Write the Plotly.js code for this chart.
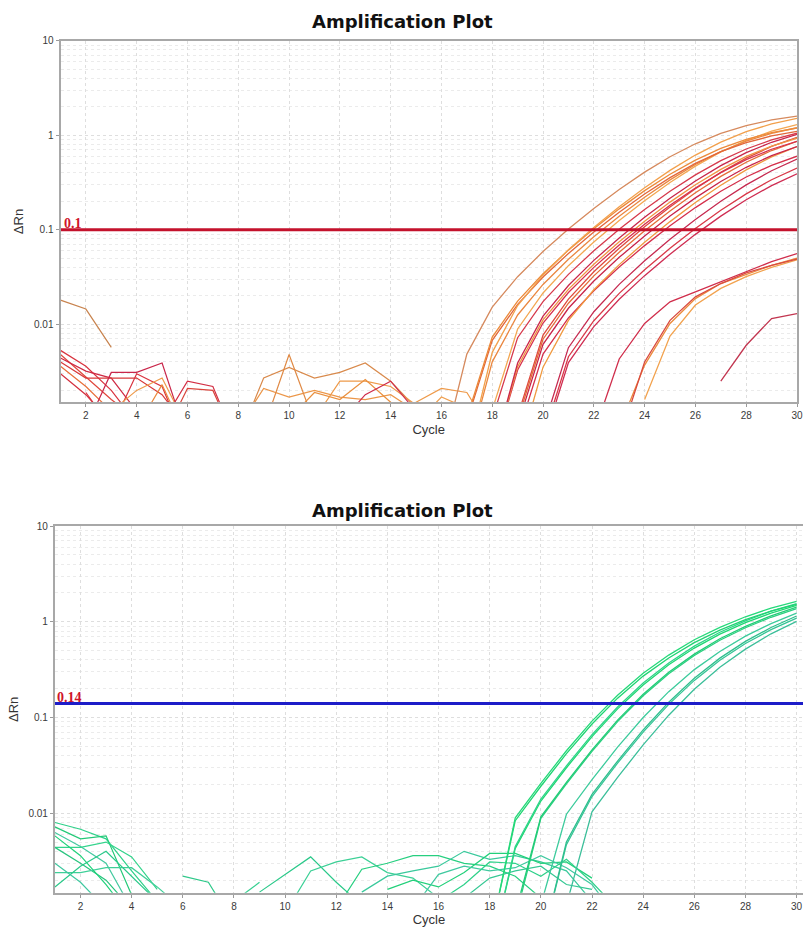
<!DOCTYPE html>
<html>
<head>
<meta charset="utf-8">
<script src="https://cdn.plot.ly/plotly-3.0.1.min.js"></script>
<style>html,body{margin:0;padding:0;background:#fff;}#chart{width:803px;height:927px;}</style>
</head>
<body>
<div id="chart"></div>
<script>
const cycles = [1,2,3,4,5,6,7,8,9,10,11,12,13,14,15,16,17,18,19,20,21,22,23,24,25,26,27,28,29,30];
const xTicks = [2,4,6,8,10,12,14,16,18,20,22,24,26,28,30];
const yTickVals = [0.01, 0.1, 1, 10];
const yTickText = ['0.01', '0.1', '1', '10'];
const thresholdTop = 0.1;
const thresholdBottom = 0.14;
const titleText = 'Amplification Plot';

// helper: place a run of values starting at a given cycle (others empty)
function seg(startCycle, vals) {
  const a = cycles.map(() => null);
  vals.forEach((v, i) => { a[startCycle - 1 + i] = v; });
  return a;
}

// ---- top plot: amplification curves ----
const t01 = seg(16, [0.0004,0.00484,0.0152,0.0319,0.0589,0.102,0.168,0.267,0.407,0.592,0.812,1.046,1.266,1.45,1.59]);
const t02 = seg(17, [0.0004,0.00505,0.0158,0.0333,0.0614,0.106,0.175,0.278,0.425,0.617,0.846,1.09,1.319,1.512]);
const t03 = seg(17, [0.00102,0.00733,0.0176,0.0343,0.0609,0.1027,0.1664,0.2593,0.3865,0.5462,0.7262,0.9062,1.0658,1.193]);
const t04 = seg(17, [0.00094,0.00676,0.01624,0.0316,0.0561,0.0947,0.1534,0.2391,0.3563,0.5034,0.6694,0.8353,0.9825,1.0997]);
const t05 = seg(18, [0.00124,0.00893,0.02146,0.04173,0.07415,0.125,0.2026,0.3158,0.4707,0.6651,0.8843,1.1035,1.2979]);
const t06 = seg(18, [0.001,0.00722,0.01736,0.03376,0.05998,0.1012,0.1639,0.2555,0.3807,0.538,0.7153,0.8926,1.0499]);
const t07 = seg(18, [0.0004,0.0039,0.01222,0.02572,0.04746,0.08194,0.1354,0.2152,0.3283,0.477,0.6542,0.8426,1.0199]);
const t08 = seg(18, [0.0004,0.00356,0.01114,0.02345,0.04326,0.07469,0.1234,0.1962,0.2993,0.4348,0.5963,0.7681,0.9297]);
const t09 = seg(18, [0.0004,0.00329,0.01031,0.0217,0.04004,0.06912,0.1142,0.1815,0.2769,0.4023,0.5519,0.7108,0.8603]);
const t10 = seg(19, [0.00097,0.00696,0.01672,0.03252,0.05779,0.09745,0.1579,0.2461,0.3668,0.5183,0.6891,0.86]);
const t11 = seg(19, [0.000855,0.00615,0.01478,0.02874,0.05108,0.08613,0.1396,0.2175,0.3242,0.4581,0.6091,0.7601]);
const t12 = seg(19, [0.0004,0.00352,0.01102,0.02319,0.04279,0.07388,0.122,0.194,0.296,0.43,0.5899,0.7597]);
const t13 = seg(19, [0.000674,0.00485,0.01166,0.02268,0.04031,0.06797,0.1101,0.1717,0.2558,0.3615,0.4807,0.5998]);
const t14 = seg(20, [0.000786,0.00566,0.01359,0.02644,0.04698,0.07922,0.1284,0.2001,0.2982,0.4213,0.5602]);
const t15 = seg(20, [0.000631,0.00454,0.01092,0.02124,0.03774,0.06364,0.1031,0.1607,0.2395,0.3385,0.45]);
const t16 = seg(20, [0.000547,0.00394,0.009469,0.01842,0.03273,0.05519,0.08943,0.1394,0.2077,0.2935,0.3903]);
const t17 = seg(17, [0.0004,0.00401,0.01255,0.02642,0.04875,0.08416,0.139,0.221,0.3372,0.4899,0.6719,0.8654,1.0475,1.2001]);
const t18 = seg(19, [0.00107,0.00768,0.01847,0.03592,0.06384,0.1077,0.1744,0.2719,0.4052,0.5725,0.7613,0.95]);
const t19 = seg(22, [0.0007,0.0043,0.0102,0.0173,0.022,0.028,0.036,0.046,0.056]);
const t20 = seg(23, [0.0008,0.0037,0.0102,0.0187,0.027,0.034,0.042,0.050]);
const t21 = seg(24, [0.0016,0.0075,0.016,0.024,0.032,0.040,0.048]);
const t22 = seg(23, [0.0006,0.0040,0.0110,0.0195,0.027,0.035,0.042,0.049]);
const t23 = seg(27, [0.0025,0.006,0.0115,0.013]);

// ---- top plot: baseline noise ----
const n01 = seg(1, [0.018,0.0145,0.0057]);
const n02 = seg(1, [0.0053,0.0036,0.0020,0.0009]);
const n03 = seg(1, [0.0048,0.0028,0.0016,0.0010]);
const n04 = seg(1, [0.0044,0.0032,0.0027,0.0012]);
const n05 = seg(1, [0.0040,0.0027,0.0027,0.0027,0.0018,0.0008]);
const n06 = seg(1, [0.0036,0.0022,0.0012]);
const n07 = seg(1, [0.0030,0.0018,0.0009]);
const n08 = seg(2, [0.0008,0.0031,0.0031,0.0039,0.0006]);
const n09 = seg(2, [0.0019,0.0008,0.0030,0.0022,0.0005]);
const n10 = seg(3, [0.0012,0.0020,0.0027,0.0008]);
const n11 = seg(4, [0.0008,0.0023,0.0006]);
const n12 = seg(5, [0.0009,0.0025,0.0022,0.0005]);
const n13 = seg(5, [0.0006,0.0021,0.0020,0.0005]);
const n14 = seg(8, [0.0006,0.0027,0.0035,0.0027,0.0031,0.0039,0.0025,0.0013,0.0008]);
const n15 = seg(8, [0.0008,0.0021,0.0017,0.0020,0.0017,0.0016,0.0018,0.0012]);
const n16 = seg(9, [0.0008,0.0048,0.0009]);
const n17 = seg(11, [0.0010,0.0025,0.0025,0.0022,0.0014,0.0009]);
const n18 = seg(10, [0.0010,0.0019,0.0016,0.0026,0.0015,0.0008]);
const n19 = seg(14, [0.0010,0.0015,0.0021,0.0019,0.0007]);
const n20 = seg(12, [0.0009,0.0018,0.0025,0.0012]);
const n21 = seg(15, [0.0009,0.0017,0.0013]);

// ---- bottom plot: amplification curves ----
const g01 = seg(18, [0.0005,0.00895,0.0205,0.0449,0.0916,0.1706,0.2897,0.4487,0.6486,0.875,1.127,1.387,1.63]);
const g02 = seg(18, [0.0005,0.00836,0.01914,0.04188,0.0855,0.1592,0.2704,0.4188,0.6053,0.8166,1.052,1.294,1.521]);
const g03 = seg(18, [0.0003,0.0045,0.01403,0.03126,0.0661,0.1288,0.2291,0.3715,0.5559,0.7762,1.023,1.288,1.549]);
const g04 = seg(18, [0.0003,0.0043,0.0134,0.02985,0.0631,0.123,0.2188,0.3548,0.5309,0.7413,0.977,1.23,1.479]);
const g05 = seg(19, [0.0009,0.00916,0.021,0.0459,0.0938,0.1746,0.2965,0.4592,0.6637,0.8954,1.153,1.419]);
const g06 = seg(19, [0.0008,0.00885,0.0203,0.0443,0.0906,0.1687,0.2864,0.4436,0.6411,0.865,1.114,1.371]);
const g07 = seg(20, [0.0011,0.00977,0.02239,0.04898,0.1,0.1862,0.3162,0.4898,0.7079,0.955,1.23]);
const g08 = seg(20, [0.0004,0.005,0.01574,0.03508,0.0741,0.1445,0.257,0.4169,0.6237,0.871,1.148]);
const g09 = seg(20, [0.0004,0.0047,0.01494,0.0333,0.07034,0.1372,0.244,0.3958,0.5921,0.8268,1.0898]);
const g10 = seg(21, [0.0011,0.01033,0.02366,0.05176,0.1057,0.1968,0.3342,0.5176,0.7482,1.009]);

// ---- bottom plot: baseline noise ----
const gn01 = seg(1, [0.0080,0.0068,0.0054,0.0025,0.0012]);
const gn02 = seg(1, [0.0072,0.0054,0.0058,0.0014]);
const gn03 = seg(1, [0.0063,0.0045,0.0030,0.0010]);
const gn04 = seg(1, [0.0044,0.0044,0.0050,0.0035,0.0016]);
const gn05 = seg(1, [0.0044,0.0030,0.0020,0.0010]);
const gn06 = seg(1, [0.0024,0.0024,0.0027,0.0027,0.0017,0.0010]);
const gn07 = seg(1, [0.0017,0.0028,0.0040,0.0022,0.0012]);
const gn08 = seg(1, [0.0058,0.0036,0.0018,0.0008]);
const gn09 = seg(1, [0.0030,0.0019,0.0010]);
const gn10 = seg(6, [0.0022,0.0019,0.0007]);
const gn11 = seg(8, [0.0012,0.0019]);
const gn12 = seg(9, [0.0015,0.0023,0.0035,0.0019,0.0011]);
const gn13 = seg(10, [0.0009,0.0025,0.0031,0.0035,0.0024,0.0021,0.0013]);
const gn14 = seg(12, [0.0010,0.0026,0.0030,0.0036,0.0036,0.0030,0.0028,0.0022,0.0013]);
const gn15 = seg(13, [0.0015,0.0022,0.0025,0.0028,0.0040,0.0033,0.0036,0.0031,0.0025,0.0012]);
const gn16 = seg(14, [0.0016,0.0020,0.0017,0.0024,0.0038,0.0038,0.0030,0.0031,0.0021]);
const gn17 = seg(15, [0.0010,0.0023,0.0028,0.0025,0.0027,0.0036,0.0027,0.0018,0.0008]);
const gn18 = seg(16, [0.0012,0.0018,0.0031,0.0030,0.0022,0.0033,0.0019,0.0010]);
const gn19 = seg(17, [0.0013,0.0021,0.0025,0.0028,0.0018,0.0016]);

// ---- styling (colours per series) ----
const topNoise = [
  [n01,'#c8834e'],[n02,'#d9343f'],[n03,'#e0473c'],[n04,'#cf2a44'],[n05,'#d83a3a'],[n06,'#e8703a'],
  [n07,'#d4303f'],[n08,'#c9264a'],[n09,'#d9343f'],[n10,'#ee9a4a'],[n11,'#eb8a3e'],[n12,'#d32f45'],
  [n13,'#d9453c'],[n14,'#d98a4c'],[n15,'#ec9648'],[n16,'#e08a45'],[n17,'#ee9a4a'],[n18,'#e9903f'],
  [n19,'#ee9a4a'],[n20,'#cf2d4c'],[n21,'#f0a050']
];
const topCurves = [
  [t19,'#d02e4c'],[t20,'#ec8a3c'],[t21,'#f2a24e'],[t22,'#d94a40'],[t23,'#c23650'],
  [t16,'#cf2d52'],[t15,'#d93848'],[t14,'#c62a50'],[t13,'#d5304c'],[t12,'#f0993f'],[t11,'#c8244a'],
  [t10,'#e46d38'],[t18,'#df4a3e'],[t09,'#d7304e'],[t08,'#ef9443'],[t07,'#c9264a'],[t06,'#d63a4c'],
  [t05,'#f3a752'],[t17,'#ea8740'],[t04,'#e2673a'],[t03,'#ec8a3a'],[t02,'#f2a04c'],[t01,'#d68a5e']
];
const botNoise = [
  [gn01,'#2fd18a'],[gn02,'#22c977'],[gn03,'#44c9a0'],[gn04,'#33d48c'],[gn05,'#28c47e'],[gn06,'#3fcf98'],
  [gn07,'#2bc98a'],[gn08,'#1fd27a'],[gn09,'#40c8a0'],[gn10,'#2fc98a'],[gn11,'#36cf90'],[gn12,'#2bc98a'],
  [gn13,'#3cd096'],[gn14,'#27cf80'],[gn15,'#3ac99c'],[gn16,'#22d07a'],[gn17,'#40c9a0'],[gn18,'#2fd18a'],
  [gn19,'#36c894']
];
const botCurves = [
  [g10,'#3cbf9a'],[g09,'#36c596'],[g08,'#2fbf8e'],[g07,'#3ccb9c'],
  [g06,'#2bd080'],[g05,'#22cc77'],[g04,'#1ed872'],[g03,'#30d48a'],[g02,'#1fd472'],[g01,'#25d97a']
];

function lineTraces(list, xa, ya, width) {
  return list.map(([vals, col]) => ({
    type: 'scatter', mode: 'lines', x: cycles, y: vals, xaxis: xa, yaxis: ya,
    line: {color: col, width: width}, connectgaps: false, hoverinfo: 'skip', showlegend: false
  }));
}

const traces = [].concat(
  lineTraces(topNoise, 'x', 'y', 1.2),
  lineTraces(topCurves, 'x', 'y', 1.3),
  [{type:'scatter', mode:'lines', x:[1,30], y:[thresholdTop, thresholdTop], xaxis:'x', yaxis:'y',
    line:{color:'#c4122c', width:3.2}, hoverinfo:'skip', showlegend:false}],
  lineTraces(botNoise, 'x2', 'y2', 1.2),
  lineTraces(botCurves, 'x2', 'y2', 1.3),
  [{type:'scatter', mode:'lines', x:[1,30.5], y:[thresholdBottom, thresholdBottom], xaxis:'x2', yaxis:'y2',
    line:{color:'#1d1dc8', width:3.2}, hoverinfo:'skip', showlegend:false}]
);

// minor log grid values 2..9 per decade
const minorVals = [];
for (let d = -3; d <= 0; d++) for (let k = 2; k <= 9; k++) minorVals.push(k * Math.pow(10, d));

const W = 803, H = 927;
function xAxis(domain, range, anchor) {
  return {
    domain: domain, range: range, anchor: anchor, tickmode: 'array', tickvals: xTicks,
    ticks: 'outside', ticklen: 3, tickcolor: '#9a9a9a', tickfont: {size: 10, color: '#3a3a3a'},
    ticklabeloverflow: 'allow',
    showgrid: true, gridcolor: '#dedede', griddash: 'dot', gridwidth: 1,
    showline: true, linecolor: '#a8a8a8', linewidth: 2, mirror: true, zeroline: false,
    automargin: false, fixedrange: true,
    title: {text: 'Cycle', font: {size: 13, color: '#333'}, standoff: 5}
  };
}
function yAxis(domain, range, anchor) {
  return {
    type: 'log', domain: domain, range: range, anchor: anchor,
    tickmode: 'array', tickvals: yTickVals, ticktext: yTickText,
    ticks: 'outside', ticklen: 3, tickcolor: '#9a9a9a', tickfont: {size: 10, color: '#3a3a3a'},
    showgrid: true, gridcolor: '#dedede', griddash: 'dot', gridwidth: 1,
    minor: {tickmode: 'array', tickvals: minorVals, showgrid: true, gridcolor: '#ebebeb', griddash: 'dot', ticks: ''},
    showline: true, linecolor: '#a8a8a8', linewidth: 2, mirror: true, zeroline: false,
    automargin: false, fixedrange: true,
    title: {text: 'ΔRn', font: {size: 13, color: '#333'}, standoff: 7}
  };
}

const layout = {
  width: W, height: H, margin: {l: 0, r: 0, t: 0, b: 0},
  paper_bgcolor: '#ffffff', plot_bgcolor: '#ffffff', showlegend: false,
  font: {family: 'Liberation Sans, Arial, sans-serif', color: '#333'},
  xaxis: xAxis([60.5 / W, 797 / W], [1, 30], 'y'),
  yaxis: yAxis([1 - 402.3 / H, 1 - 40.7 / H], [-2.825, 1], 'x'),
  xaxis2: xAxis([54.9 / W, 1], [1, 30.25], 'y2'),
  yaxis2: yAxis([1 - 892.7 / H, 1 - 526 / H], [-2.83, 1], 'x2'),
  annotations: [
    {text: '<b>' + titleText + '</b>', xref: 'paper', yref: 'paper', x: 402 / W, y: 1 - 22 / H,
     xanchor: 'center', yanchor: 'middle', showarrow: false,
     font: {family: 'DejaVu Sans, Verdana, sans-serif', size: 18, color: '#111'}},
    {text: '<b>' + titleText + '</b>', xref: 'paper', yref: 'paper', x: 402 / W, y: 1 - 510 / H,
     xanchor: 'center', yanchor: 'middle', showarrow: false,
     font: {family: 'DejaVu Sans, Verdana, sans-serif', size: 18, color: '#111'}},
    {text: '<b>' + String(thresholdTop) + '</b>', xref: 'x', yref: 'y', x: 1, y: Math.log10(thresholdTop),
     xanchor: 'left', yanchor: 'bottom', xshift: 1, yshift: -3, showarrow: false,
     font: {family: 'Liberation Serif, Times New Roman, serif', size: 14, color: '#d0152a'}},
    {text: '<b>' + String(thresholdBottom) + '</b>', xref: 'x2', yref: 'y2', x: 1, y: Math.log10(thresholdBottom),
     xanchor: 'left', yanchor: 'bottom', xshift: 0, yshift: -3, showarrow: false,
     font: {family: 'Liberation Serif, Times New Roman, serif', size: 14, color: '#d0152a'}}
  ]
};

Plotly.newPlot('chart', traces, layout, {displayModeBar: false, staticPlot: true});
</script>
</body>
</html>
